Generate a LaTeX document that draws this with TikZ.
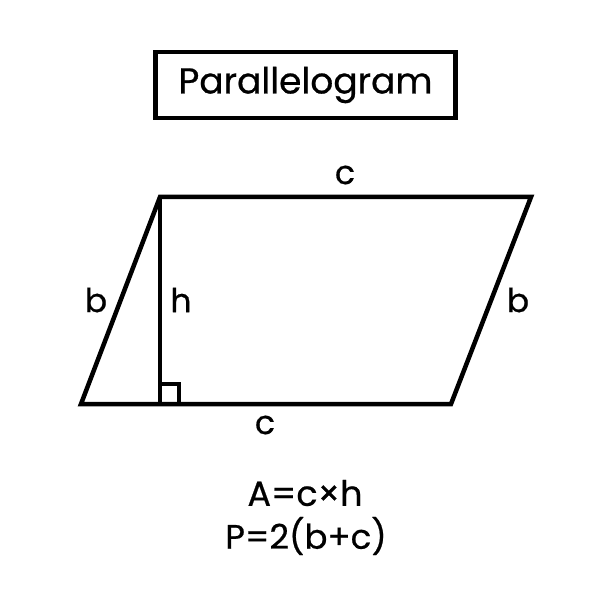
\documentclass[tikz,border=0pt]{standalone}
\usepackage{fontspec}
\setmainfont{Poppins}[FakeBold=0.6]
\usetikzlibrary{calc}
\tikzset{
  edge/.style={line width=4.5pt, line join=miter},
  lbl/.style={font=\fontsize{33}{38}\selectfont, inner sep=0pt},
}
\begin{document}
\begin{tikzpicture}[x=1pt, y=-1pt]
\useasboundingbox[fill=white] (0,0) rectangle (612,612);
% title
\node[draw, line width=4.5pt, minimum width=300pt, minimum height=66pt, font=\fontsize{36}{40}\selectfont] (title) at (305.5,85) {Parallelogram};

% corners
\coordinate (TL) at (160,197);
\coordinate (TR) at (531,197);
\coordinate (BR) at (451,404);
\coordinate (BL) at (81,404);
\coordinate (H) at (160,404);

\draw[edge] (BL) -- (TL) -- (TR) -- (BR) -- cycle;
\draw[edge] (TL) -- (H);
\draw[line width=4pt] ($(H)+(0,-20)$) -| ($(H)+(19,0)$);

\node[lbl] (c top) at (345,175) {c};
\node[lbl] (b left) at (96,300) {b};
\node[lbl] (h) at (181,300) {h};
\node[lbl] (b right) at (518,300) {b};
\node[lbl] (c bottom) at (265,425) {c};

\node[lbl, font=\fontsize{35}{38}\selectfont] (area) at (305,493) {A=c×h};
\node[lbl, font=\fontsize{34}{38}\selectfont] (perim) at (306,536) {P=2(b+c)};
\end{tikzpicture}
\end{document}
